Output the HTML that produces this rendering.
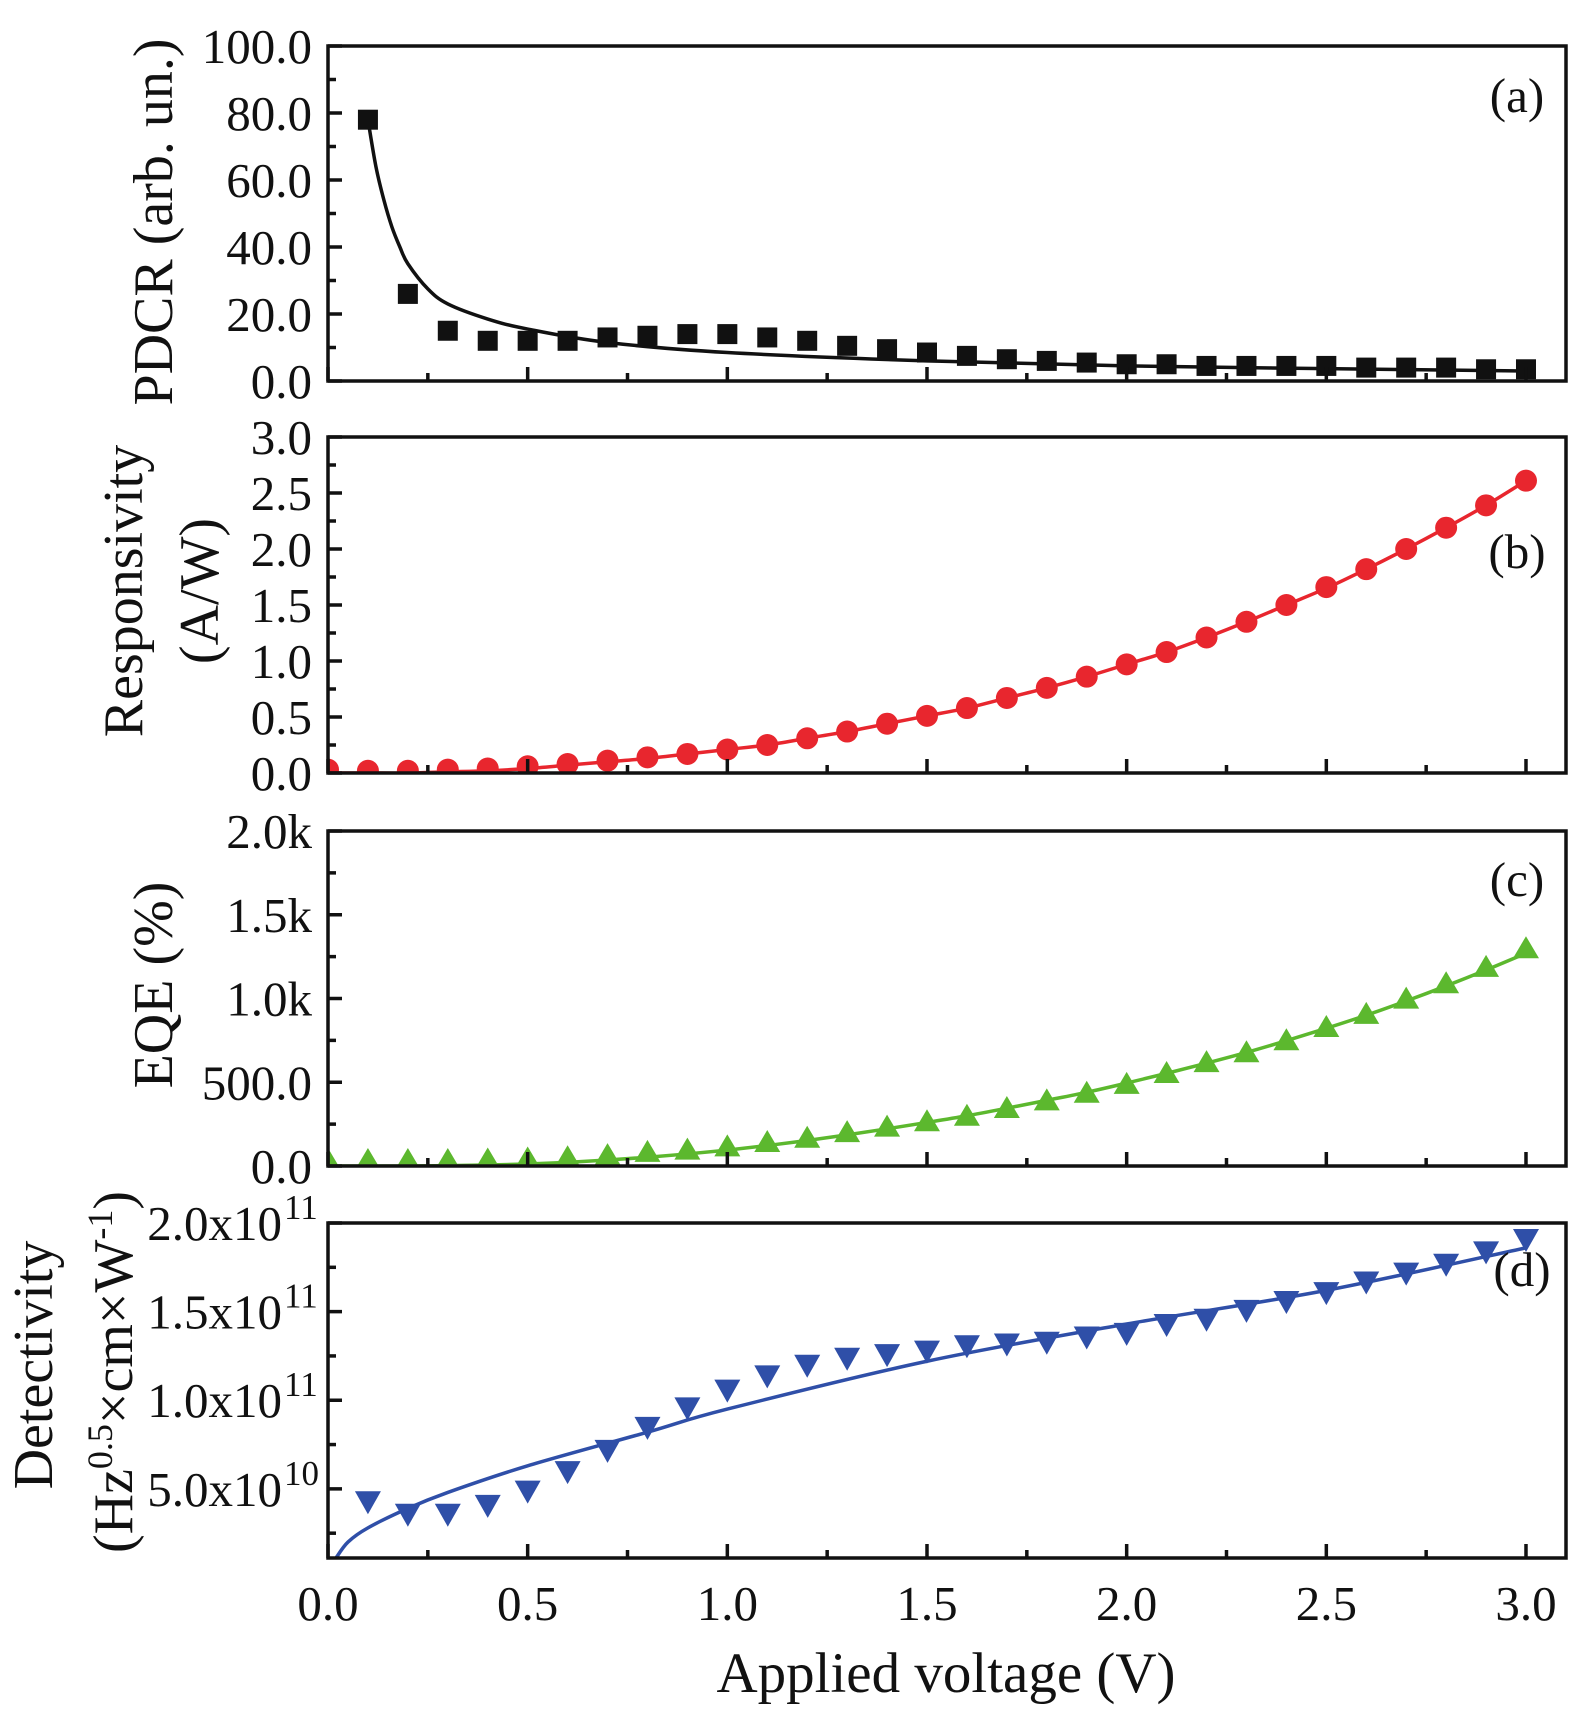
<!DOCTYPE html>
<html><head><meta charset="utf-8"><style>
html,body{margin:0;padding:0;background:#fff;position:relative}
svg{display:block}
text{font-family:"Liberation Serif",serif;fill:#111}
</style></head><body>
<svg id="chart" width="1575" height="1716" viewBox="0 0 1575 1716" xmlns="http://www.w3.org/2000/svg"></svg>
<script>
// ---- data ----
const pdcrX = [0.1,0.2,0.3,0.4,0.5,0.6,0.7,0.8,0.9,1.0,1.1,1.2,1.3,1.4,1.5,1.6,1.7,1.8,1.9,2.0,2.1,2.2,2.3,2.4,2.5,2.6,2.7,2.8,2.9,3.0];
const pdcrY = [78,26,15,12,12,12,13,13.5,14,14,13,12,10.5,9.5,8.5,7.5,6.5,6,5.5,5,5,4.5,4.5,4.5,4.5,4,4,4,3.5,3.5];
const pdcrFitX = [0.1,0.12,0.14,0.16,0.18,0.2,0.25,0.3,0.4,0.5,0.7,1.0,1.5,2.0,2.5,3.0];
const pdcrFitY = [78,64,54,46,40,35,27.5,23,18.5,15.5,11.5,8.5,6,4.5,3.7,3];
const respX = [0,0.1,0.2,0.3,0.4,0.5,0.6,0.7,0.8,0.9,1.0,1.1,1.2,1.3,1.4,1.5,1.6,1.7,1.8,1.9,2.0,2.1,2.2,2.3,2.4,2.5,2.6,2.7,2.8,2.9,3.0];
const respY = [0.03,0.02,0.02,0.03,0.04,0.06,0.08,0.11,0.14,0.17,0.21,0.25,0.31,0.37,0.44,0.51,0.58,0.67,0.76,0.86,0.97,1.08,1.21,1.35,1.50,1.66,1.82,2.00,2.19,2.39,2.61];
const respFitY = [0,0,0,0.01,0.02,0.04,0.07,0.10,0.13,0.17,0.21,0.25,0.31,0.37,0.44,0.51,0.58,0.67,0.76,0.86,0.97,1.08,1.21,1.35,1.50,1.65,1.82,2.00,2.19,2.39,2.61];
const eqeX = respX;
const eqeY = [30,30,30,30,33,39,46,59,78,92,111,137,163,196,229,261,294,340,386,431,484,549,614,673,745,824,902,993,1085,1183,1294];
const eqeFitY = [0,0,0,2,6,12,22,36,52,72,95,122,152,186,222,260,300,345,392,440,495,553,614,678,748,822,900,985,1075,1170,1270];
const detX = pdcrX;
const detY = [4.3,3.6,3.6,4.1,4.9,6.0,7.2,8.5,9.6,10.6,11.4,12.0,12.4,12.6,12.8,13.1,13.2,13.3,13.6,13.8,14.3,14.6,15.1,15.6,16.1,16.7,17.2,17.7,18.4,19.1];
const detFitX = [0.02,0.05,0.1,0.2,0.3,0.5,0.8,1.0,1.5,2.0,2.5,3.0];
const detFitY = [1.1,2.0,2.8,3.9,4.8,6.3,8.2,9.5,12.2,14.3,16.2,18.6];
const xTicks = [0,0.5,1.0,1.5,2.0,2.5,3.0];
const xTickLabels = ["0.0","0.5","1.0","1.5","2.0","2.5","3.0"];

const NS="http://www.w3.org/2000/svg";
const svg=document.getElementById('chart');
function el(tag,attrs,parent){const e=document.createElementNS(NS,tag);for(const k in attrs)e.setAttribute(k,attrs[k]);(parent||svg).appendChild(e);return e;}
const L=328,R=1566;
const X=v=>L+v*399.33;
const defs=el('defs',{});

function panel(name,top,bot,ymin,ymax,majors,labels,minors,supers){
  const g=el('g',{});
  
  
  const cp=el('clipPath',{id:'clip-'+name},defs);
  el('rect',{x:L,y:top,width:R-L,height:bot-top},cp);
  const Y=v=>bot-(v-ymin)/(ymax-ymin)*(bot-top);
  const plot=el('g',{'clip-path':'url(#clip-'+name+')'},g);
  
  
  const fr=el('rect',{x:L,y:top,width:R-L,height:bot-top,fill:'none',stroke:'#111','stroke-width':3.5},g);
  
  
  for(let i=0;i<=12;i++){const v=i*0.25;const len=(i%2==0)?14:8;
    el('line',{x1:X(v),x2:X(v),y1:bot,y2:bot-len,stroke:'#111','stroke-width':3.5},g);}
  majors.forEach((v,i)=>{
    el('line',{x1:L,x2:L+14,y1:Y(v),y2:Y(v),stroke:'#111','stroke-width':3.5},g);
    const t=el('text',{x:supers?282:312,y:Y(v)+17,'text-anchor':'end','font-size':49},g);
    
    
    t.textContent=labels[i];
    if(supers){const s=el('text',{x:284,y:Y(v)-4,'font-size':35},g);
      
      
      s.textContent=supers[i];}
  });
  minors.forEach(v=>{el('line',{x1:L,x2:L+8,y1:Y(v),y2:Y(v),stroke:'#111','stroke-width':3.5},g);});
  return {g:plot,outer:g,Y};
}
function smoothPath(pts){
  let d='M'+pts[0][0]+','+pts[0][1];
  for(let i=0;i<pts.length-1;i++){
    const p0=pts[Math.max(0,i-1)],p1=pts[i],p2=pts[i+1],p3=pts[Math.min(pts.length-1,i+2)];
    const c1=[p1[0]+(p2[0]-p0[0])/6,p1[1]+(p2[1]-p0[1])/6];
    const c2=[p2[0]-(p3[0]-p1[0])/6,p2[1]-(p3[1]-p1[1])/6];
    d+=` C${c1[0]},${c1[1]} ${c2[0]},${c2[1]} ${p2[0]},${p2[1]}`;
  }
  return d;
}
function line(g,xs,ys,Y,color,name){
  const p=el('path',{d:smoothPath(xs.map((x,i)=>[X(x),Y(ys[i])])),fill:'none',stroke:color,'stroke-width':3.5,'stroke-linejoin':'round'},g);
  
  
}
function label(g,txt,x,y,name){const t=el('text',{x:x,y:y,'text-anchor':'middle','font-size':49},g);
  
  
  t.textContent=txt;}

// Panel a
let P=panel('pdcr',46,381,0,100,[0,20,40,60,80,100],["0.0","20.0","40.0","60.0","80.0","100.0"],[10,30,50,70,90]);
line(P.g,pdcrFitX,pdcrFitY,P.Y,'#111','pdcr-fit-line');
pdcrX.forEach((x,i)=>{const r=el('rect',{x:X(x)-10,y:P.Y(pdcrY[i])-10,width:20,height:20,fill:'#111'},P.g);
  
  });
label(P.outer,'(a)',1517,112,'panel-label-a');

// Panel b
P=panel('responsivity',437,773,0,3,[0,0.5,1,1.5,2,2.5,3],["0.0","0.5","1.0","1.5","2.0","2.5","3.0"],[0.25,0.75,1.25,1.75,2.25,2.75]);
line(P.g,respX,respFitY,P.Y,'#e8262e','responsivity-fit-line');
respX.forEach((x,i)=>{const c=el('circle',{cx:X(x),cy:P.Y(respY[i]),r:11,fill:'#e8262e'},P.g);
  
  });
label(P.outer,'(b)',1517,568,'panel-label-b');

// Panel c
P=panel('eqe',831,1166,0,2000,[0,500,1000,1500,2000],["0.0","500.0","1.0k","1.5k","2.0k"],[250,750,1250,1750]);
line(P.g,eqeX,eqeFitY,P.Y,'#5cb82e','eqe-fit-line');
eqeX.forEach((x,i)=>{const cx=X(x),cy=P.Y(eqeY[i]);
  const t=el('polygon',{points:`${cx-13},${cy+9} ${cx+13},${cy+9} ${cx},${cy-13}`,fill:'#5cb82e'},P.g);
  
  });
label(P.outer,'(c)',1517,896,'panel-label-c');

// Panel d
P=panel('detectivity',1223,1558,1.1,20,[5,10,15,20],["5.0x10","1.0x10","1.5x10","2.0x10"],[2.5,7.5,12.5,17.5],["10","11","11","11"]);
line(P.g,detFitX,detFitY,P.Y,'#2f4fa8','detectivity-fit-line');
detX.forEach((x,i)=>{const cx=X(x),cy=P.Y(detY[i]);
  const t=el('polygon',{points:`${cx-13},${cy-10} ${cx+13},${cy-10} ${cx},${cy+13}`,fill:'#2f4fa8'},P.g);
  
  });
label(P.outer,'(d)',1522,1286,'panel-label-d');

xTicks.forEach((v,i)=>{const t=el('text',{x:X(v),y:1620,'text-anchor':'middle','font-size':49});
  
  
  t.textContent=xTickLabels[i];});
</script>
<svg style="position:absolute;left:0;top:0" width="1575" height="1716">
<text x="946" y="1692" text-anchor="middle" font-size="57">Applied voltage (V)</text>
<text transform="translate(172,222) rotate(-90)" text-anchor="middle" font-size="56">PDCR (arb. un.)</text>
<text transform="translate(142,591) rotate(-90)" text-anchor="middle" font-size="56">Responsivity</text>
<text transform="translate(218,591) rotate(-90)" text-anchor="middle" font-size="56">(A/W)</text>
<text transform="translate(172,985) rotate(-90)" text-anchor="middle" font-size="56">EQE (%)</text>
<text transform="translate(52,1365) rotate(-90)" text-anchor="middle" font-size="56">Detectivity</text>
<text transform="translate(132,1372) rotate(-90)" text-anchor="middle" font-size="56">(Hz<tspan dy="-20" font-size="36">0.5</tspan><tspan dy="20">×cm×W</tspan><tspan dy="-20" font-size="36">-1</tspan><tspan dy="20">)</tspan></text>
</svg>
</body></html>
